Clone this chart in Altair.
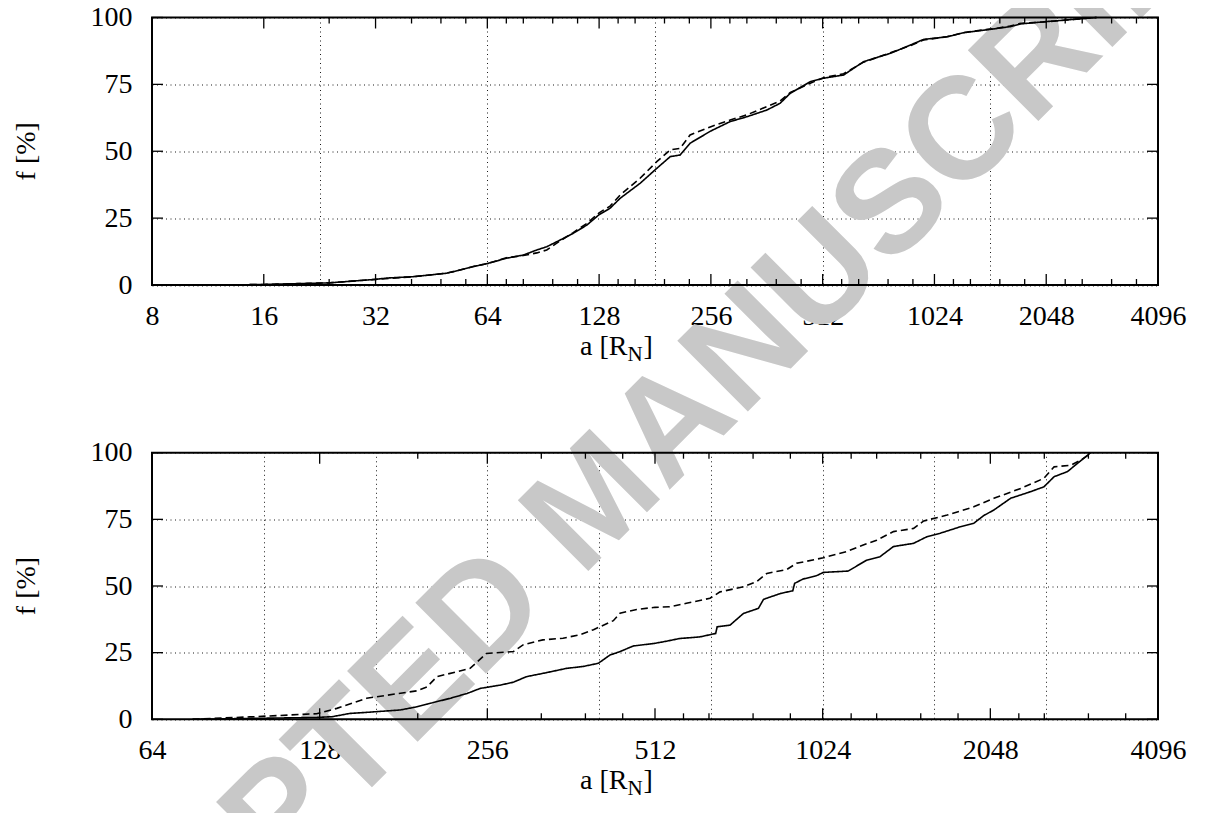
import altair as alt
import pandas as pd

# ---------------- data ----------------
top_solid_a = [12.8, 16, 24, 32, 34.3, 40.4, 49.7, 54, 58.7, 64, 72, 80, 87, 92.5, 100.5, 109,
               118.6, 128, 137, 145.8, 165, 183, 199, 211.6, 225, 256, 288.6, 320, 362, 393,
               419, 474, 515, 583, 660, 779, 882, 957, 1107, 1228, 1509, 1639, 1745, 2060,
               2429, 2640, 2800]
top_solid_f = [0, 0.2, 0.8, 2.1, 2.6, 3.1, 4.4, 5.6, 6.9, 8.0, 10.0, 11.2, 13.1, 14.3, 16.8, 19.3,
               22.4, 26.3, 28.7, 32.4, 38.0, 43.6, 48.0, 48.6, 53.0, 57.6, 61.1, 62.9, 65.4, 67.9,
               71.7, 76.0, 77.3, 78.5, 83.5, 86.6, 89.7, 91.8, 92.8, 94.3, 95.9, 96.6, 97.6, 98.5,
               99.3, 99.7, 100]

top_dash_a = [12.8, 16, 24, 32, 40.4, 49.7, 54, 58.7, 64, 72, 80, 87, 92.5, 100.5, 109, 118.6,
              128, 137, 145.8, 165, 183, 199, 211.6, 225, 256, 288.6, 320, 362, 393, 419, 474,
              515, 583, 660, 779, 882, 957, 1107, 1228, 1509, 1639, 1745, 2060, 2429, 2800]
top_dash_f = [0, 0.2, 0.8, 2.1, 3.1, 4.4, 5.6, 6.9, 8.0, 10.2, 11.0, 12.0, 13.1, 16.5, 19.6, 23.0,
              27.0, 29.5, 33.6, 39.9, 46.1, 50.5, 51.1, 56.1, 59.2, 61.7, 63.6, 66.7, 68.8, 72.0,
              75.4, 77.5, 79.0, 83.3, 86.8, 89.5, 91.6, 92.8, 94.4, 96.0, 96.8, 97.8, 98.4, 99.3,
              100]

bot_solid_a = [75.7, 126.4, 135, 145, 155.4, 178.6, 191.4, 199.6, 219.8, 235.5, 248.7, 269.6, 285,
               301, 327, 355, 380, 405, 425, 443, 468, 512, 537, 567, 616, 658, 662, 698, 738,
               785, 802, 860, 905, 912, 944, 999, 1027, 1138, 1228, 1298, 1372, 1491, 1576, 1665,
               1808, 1912, 1992, 2078, 2227, 2420, 2556, 2666, 2817, 2936, 3063, 3100]
bot_solid_f = [0, 0.7, 1.0, 2.2, 2.6, 3.5, 4.7, 5.7, 7.9, 9.7, 11.6, 12.8, 13.9, 16.0, 17.5, 19.1,
               19.8, 21.0, 24.1, 25.4, 27.5, 28.5, 29.3, 30.3, 30.9, 32.2, 34.7, 35.3, 39.7, 41.6,
               45.0, 47.2, 48.2, 51.0, 52.6, 53.9, 55.1, 55.6, 59.7, 61.0, 64.8, 66.0, 68.5, 69.8,
               72.2, 73.5, 76.4, 78.5, 82.9, 85.4, 87.2, 91.0, 92.9, 96.0, 99.1, 100]

bot_dash_a = [75.7, 95.9, 126.4, 137.4, 155.4, 191.4, 199.6, 207.9, 238.4, 255, 285, 296.7, 322,
              350, 375, 397, 431, 443, 474.6, 512, 544, 583, 642.6, 670, 738, 779, 813, 883, 919,
              1027, 1130, 1211, 1280, 1372, 1491, 1555, 1713, 1912, 2078, 2323, 2556, 2666, 2856,
              2976, 3085, 3100]
bot_dash_f = [0, 0.9, 2.1, 4.1, 7.9, 10.7, 12.2, 16.0, 19.1, 24.7, 25.4, 27.9, 29.8, 30.4, 31.7,
              33.6, 37.0, 39.8, 41.2, 42.0, 42.2, 43.5, 45.4, 47.8, 49.7, 51.6, 54.7, 56.2, 58.5,
              60.6, 62.9, 65.4, 67.2, 70.4, 71.6, 74.4, 76.6, 79.7, 82.9, 86.6, 90.4, 94.7, 95.3,
              97.2, 99.4, 100]

top_major = [8, 16, 32, 64, 128, 256, 512, 1024, 2048, 4096]
top_minor = [24, 40, 48, 56, 72, 80, 96, 112, 144, 160, 192, 224, 288, 320, 384, 448, 576, 640,
             768, 896, 1152, 1280, 1536, 1792, 2304, 2560, 3072, 3584]
bot_major = [64, 128, 256, 512, 1024, 2048, 4096]
bot_minor = [192, 320, 384, 448, 576, 640, 768, 896, 1152, 1280, 1536, 1792, 2304, 2560, 3072,
             3584]
y_ticks = [0, 25, 50, 75, 100]

x_title = "a [R"
x_title_sub = "N"
y_title = "f [%]"
watermark = "ACCEPTED MANUSCRIPT"

# ---------------- layout constants ----------------
W = 1006.0
H = 701.8
TOP_H = 267.5          # bottom edge of upper panel
BOT_Y0 = 435.2         # top edge of lower panel
SERIF = "Liberation Serif"
FS = 28

top_lines = pd.concat([
    pd.DataFrame({"a": top_solid_a, "f": top_solid_f, "series": "solid"}),
    pd.DataFrame({"a": top_dash_a, "f": top_dash_f, "series": "dashed"}),
])
bot_lines = pd.concat([
    pd.DataFrame({"a": bot_solid_a, "f": bot_solid_f, "series": "solid"}),
    pd.DataFrame({"a": bot_dash_a, "f": bot_dash_f, "series": "dashed"}),
])
dummy = pd.DataFrame({"k": [0]})


def xs(panel):
    if panel == "top":
        return alt.Scale(type="log", base=2, domain=[8, 4096], range=[0, W], nice=False)
    return alt.Scale(type="log", base=2, domain=[64, 4096], range=[0, W], nice=False)


def ys(panel):
    if panel == "top":
        return alt.Scale(domain=[0, 100], range=[TOP_H, 0], nice=False, zero=False)
    return alt.Scale(domain=[0, 100], range=[H, BOT_Y0], nice=False, zero=False)


def xaxis(panel):
    return alt.Axis(orient="bottom", offset=(-(H - TOP_H) if panel == "top" else 0),
                    values=top_major if panel == "top" else bot_major, format="d",
                    grid=True, gridDash=[1, 3.5], gridColor="black", gridWidth=1, gridOpacity=0.9,
                    domain=False, ticks=False, tickSize=0, labelFont=SERIF, labelFontSize=FS,
                    labelColor="black", labelPadding=17, labelFlush=False, labelOverlap=False,
                    title="")


def yaxis():
    return alt.Axis(orient="left", values=y_ticks, format="d",
                    grid=True, gridDash=[1, 3.5], gridColor="black", gridWidth=1, gridOpacity=0.9,
                    domain=False, ticks=False, tickSize=0, labelFont=SERIF, labelFontSize=FS,
                    labelColor="black", labelPadding=20, labelOverlap=False, title="")


dash_scale = alt.Scale(domain=["solid", "dashed"], range=[[1, 0], [7, 4]])

layers = []

# watermark (behind the data)
layers.append(alt.Chart(dummy).mark_text(
    text=watermark, angle=315, font="Liberation Sans", fontWeight="bold", fontSize=145,
    color="#c8c8c8", align="center", baseline="middle"
).encode(x=alt.value(444), y=alt.value(483.5)))

for panel, df, major, minor in [("top", top_lines, top_major, top_minor),
                                ("bot", bot_lines, bot_major, bot_minor)]:
    y0 = 0 if panel == "top" else BOT_Y0
    y1 = TOP_H if panel == "top" else H

    # curves + axes + grid
    layers.append(alt.Chart(df).mark_line(color="black", strokeWidth=1.6).encode(
        x=alt.X("a:Q", scale=xs(panel), axis=xaxis(panel)),
        y=alt.Y("f:Q", scale=ys(panel), axis=yaxis()),
        strokeDash=alt.StrokeDash("series:N", scale=dash_scale, legend=None),
    ))

    mj = pd.DataFrame({"v": major})
    mn = pd.DataFrame({"v": minor})
    yt = pd.DataFrame({"v": y_ticks})
    # inward ticks on bottom & top edges
    for ya, yb, d in [(y1, y1 - 11, mj), (y0, y0 + 11, mj), (y1, y1 - 6, mn), (y0, y0 + 6, mn)]:
        layers.append(alt.Chart(d).mark_rule(color="black", strokeWidth=1.3).encode(
            x=alt.X("v:Q", scale=xs(panel), axis=None),
            y=alt.value(ya), y2=alt.value(yb)))
    # inward y ticks left & right
    for xa, xb in [(0, 11), (W, W - 11)]:
        layers.append(alt.Chart(yt).mark_rule(color="black", strokeWidth=1.3).encode(
            y=alt.Y("v:Q", scale=ys(panel), axis=None),
            x=alt.value(xa), x2=alt.value(xb)))

    # frame
    layers.append(alt.Chart(dummy).mark_rect(fillOpacity=0, stroke="black", strokeWidth=2).encode(
        x=alt.value(0), x2=alt.value(W), y=alt.value(y0), y2=alt.value(y1)))

    # y title
    layers.append(alt.Chart(dummy).mark_text(
        text=y_title, angle=270, font=SERIF, fontSize=FS, color="black",
        align="center", baseline="middle"
    ).encode(x=alt.value(-125), y=alt.value((y0 + y1) / 2)))

    # x title  a [R_N]  (centred at cx)
    base_y = y1 + 70
    cx = 465
    x_start = cx - 37
    layers.append(alt.Chart(dummy).mark_text(
        text=x_title, font=SERIF, fontSize=FS, color="black", align="left", baseline="alphabetic"
    ).encode(x=alt.value(x_start), y=alt.value(base_y)))
    layers.append(alt.Chart(dummy).mark_text(
        text=x_title_sub, font=SERIF, fontSize=21, color="black", align="left",
        baseline="alphabetic"
    ).encode(x=alt.value(x_start + 47.5), y=alt.value(base_y + 6)))
    layers.append(alt.Chart(dummy).mark_text(
        text="]", font=SERIF, fontSize=FS, color="black", align="left", baseline="alphabetic"
    ).encode(x=alt.value(x_start + 63.5), y=alt.value(base_y)))

chart = alt.layer(*layers).resolve_scale(
    x="independent", y="independent"
).properties(
    width=W, height=H,
    autosize=alt.AutoSizeParams(type="none"),
    padding={"left": 144, "top": 9.5, "right": 39, "bottom": 93.7},
).configure_view(stroke="transparent")

chart.save("out.html", embed_options={"renderer": "svg", "actions": False})
